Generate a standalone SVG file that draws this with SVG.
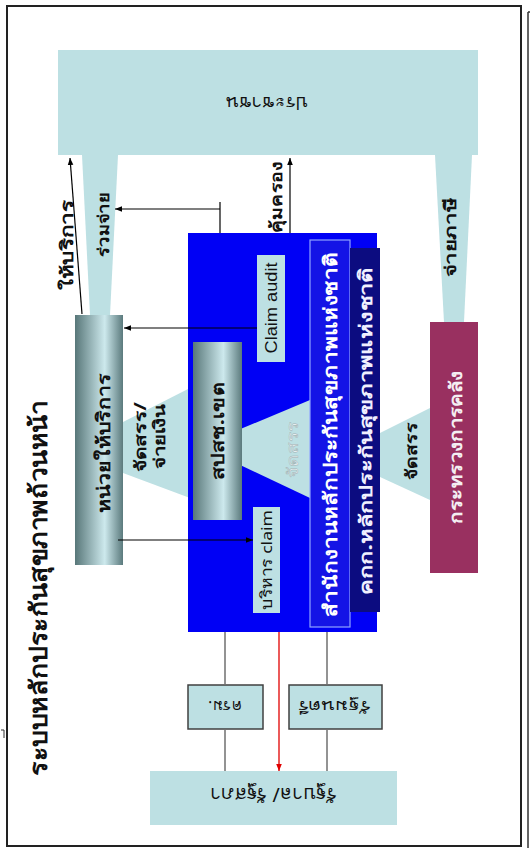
<svg xmlns="http://www.w3.org/2000/svg" width="530" height="848" viewBox="0 0 530 848">
<defs>
<linearGradient id="cyl" x1="0" y1="0" x2="1" y2="0">
<stop offset="0" stop-color="#587779"/>
<stop offset="0.62" stop-color="#cde9ed"/>
<stop offset="1" stop-color="#5b7a7d"/>
</linearGradient>
<marker id="ah" viewBox="0 0 10 10" refX="10" refY="5" markerWidth="7" markerHeight="7" markerUnits="userSpaceOnUse" orient="auto"><path d="M0,1 L10,5 L0,9 z" fill="#000"/></marker>
<marker id="ahr" viewBox="0 0 10 10" refX="10" refY="5" markerWidth="7" markerHeight="7" markerUnits="userSpaceOnUse" orient="auto"><path d="M0,1 L10,5 L0,9 z" fill="#e00000"/></marker>
</defs>
<style>
text{font-family:"Noto Sans","DejaVu Sans",sans-serif;text-anchor:middle;dominant-baseline:central;fill:#111}
.en{font-family:"Liberation Sans",Arial,sans-serif}
.b{font-weight:bold}
.lb{fill:#bde0e3}
.box{fill:#bde0e3;stroke:#404040;stroke-width:1.5}
.ln{stroke:#000;stroke-width:1.2;fill:none}
.gl{stroke:#707070;stroke-width:1.5;fill:none}
</style>
<rect x="0" y="0" width="530" height="848" fill="#fff"/>
<rect x="7" y="6" width="514" height="840" fill="none" stroke="#222" stroke-width="2"/>
<path d="M528,12 V848 M528,12 H530" stroke="#333" stroke-width="1.5" fill="none"/>
<path d="M1,730 L4,730 L4,738" stroke="#333" stroke-width="1" fill="none"/>

<text class="b" transform="translate(37,588) rotate(-90)" font-size="24" textLength="375" lengthAdjust="spacingAndGlyphs">ระบบหลักประกันสุขภาพถ้วนหน้า</text>

<g id="flows">
<polygon class="lb" points="82,155 118,155 110,315 90,315"/>
<polygon class="lb" points="435,155 472,155 464,322 444,322"/>
<polygon class="lb" points="123,422 190,388 190,498 123,473"/>
<polygon class="lb" points="380,433 430,408 430,500 380,477"/>
<text class="b" transform="translate(103,225) rotate(-90)" font-size="16" textLength="64" lengthAdjust="spacingAndGlyphs">ร่วมจ่าย</text>
<text class="b" transform="translate(450,237) rotate(-90)" font-size="16" textLength="80" lengthAdjust="spacingAndGlyphs">จ่ายภาษี</text>
<text class="b" transform="translate(140,437) rotate(-90)" font-size="16" textLength="70" lengthAdjust="spacingAndGlyphs">จัดสรร/</text>
<text class="b" transform="translate(159,436) rotate(-90)" font-size="16" textLength="65" lengthAdjust="spacingAndGlyphs">จ่ายเงิน</text>
<text class="b" transform="translate(411,451) rotate(-90)" font-size="16" textLength="57" lengthAdjust="spacingAndGlyphs">จัดสรร</text>
</g>

<g id="node-people">
<rect class="lb" x="58" y="50" width="420" height="105"/>
<text transform="translate(267,104) rotate(180)" font-size="18" textLength="81" lengthAdjust="spacingAndGlyphs">ประชาชน</text>
</g>

<g id="node-nhso">
<rect x="188" y="233" width="189" height="399" fill="#0000f5"/>
<polygon class="lb" points="200,446 310,400 310,498"/>
<text transform="translate(292,450) rotate(-90)" font-size="15" stroke="#9aaeb0" stroke-width="0.4" textLength="56" lengthAdjust="spacingAndGlyphs" style="fill:#e6eef0">จัดสรร</text>
</g>

<g id="node-region">
<rect x="193" y="342" width="49" height="178" fill="url(#cyl)"/>
<text class="b" transform="translate(217,431) rotate(-90)" font-size="17" textLength="97" lengthAdjust="spacingAndGlyphs">สปสช.เขต</text>
</g>

<g id="node-claim-audit">
<rect class="lb" x="257" y="255" width="28" height="107"/>
<text class="en" transform="translate(271,308) rotate(-90)" font-size="17" textLength="91" lengthAdjust="spacingAndGlyphs">Claim audit</text>
</g>

<g id="node-claim-admin">
<rect class="lb" x="253" y="507" width="27" height="106"/>
<text transform="translate(266,560) rotate(-90)" font-size="15" textLength="100" lengthAdjust="spacingAndGlyphs">บริหาร claim</text>
</g>

<g id="node-office">
<rect x="310" y="240" width="40" height="387" fill="#1414e6" stroke="#8fa4ff" stroke-width="1.2"/>
<text class="b" transform="translate(330,435) rotate(-90)" font-size="19" textLength="364" lengthAdjust="spacingAndGlyphs" style="fill:#fff">สำนักงานหลักประกันสุขภาพแห่งชาติ</text>
</g>

<g id="node-board">
<rect x="350" y="248" width="30" height="364" fill="#0c0c80"/>
<text class="b" transform="translate(365,431) rotate(-90)" font-size="18" textLength="328" lengthAdjust="spacingAndGlyphs" style="fill:#f0f0ff">คกก.หลักประกันสุขภาพแห่งชาติ</text>
</g>

<g id="node-provider">
<rect x="75" y="315" width="48" height="250" fill="url(#cyl)"/>
<text class="b" transform="translate(103,443) rotate(-90)" font-size="18" textLength="140" lengthAdjust="spacingAndGlyphs">หน่วยให้บริการ</text>
</g>

<g id="node-finance">
<rect x="430" y="322" width="48" height="251" fill="#993060"/>
<text class="b" transform="translate(455,447) rotate(-90)" font-size="18" textLength="153" lengthAdjust="spacingAndGlyphs" style="fill:#f4eef2">กระทรวงการคลัง</text>
</g>

<g id="node-cabinet">
<rect class="box" x="188" y="685" width="75" height="44"/>
<text transform="translate(225,707) rotate(180)" font-size="16" textLength="34" lengthAdjust="spacingAndGlyphs">ครม.</text>
</g>

<g id="node-minister">
<rect class="box" x="289" y="685" width="93" height="44"/>
<text transform="translate(334,707) rotate(180)" font-size="16" textLength="73" lengthAdjust="spacingAndGlyphs">รัฐมนตรี</text>
</g>

<g id="node-gov">
<rect class="lb" x="150" y="771" width="247" height="54"/>
<text transform="translate(273,795) rotate(180)" font-size="19" textLength="127" lengthAdjust="spacingAndGlyphs">รัฐบาล/ รัฐสภา</text>
</g>

<g id="connectors">
<path class="ln" d="M82,314 L70,158" marker-end="url(#ah)"/>
<text class="b" transform="translate(66,245) rotate(-90)" font-size="17" textLength="90" lengthAdjust="spacingAndGlyphs">ให้บริการ</text>
<path class="ln" d="M220,233 V202"/>
<path class="ln" d="M220,209 H115" marker-end="url(#ah)"/>
<path class="ln" d="M290,233 V158" marker-end="url(#ah)"/>
<text class="b" transform="translate(276,197) rotate(-90)" font-size="16" textLength="72" lengthAdjust="spacingAndGlyphs">คุ้มครอง</text>
<path class="ln" d="M257,328 H124" marker-end="url(#ah)"/>
<path class="ln" d="M118,540 H253" marker-end="url(#ah)"/>
<path class="gl" d="M225,632 V685 M225,729 V771 M327,632 V685 M327,729 V771"/>
<path d="M279,632 V771" stroke="#e00000" stroke-width="1.3" fill="none" marker-end="url(#ahr)"/>
</g>
</svg>
